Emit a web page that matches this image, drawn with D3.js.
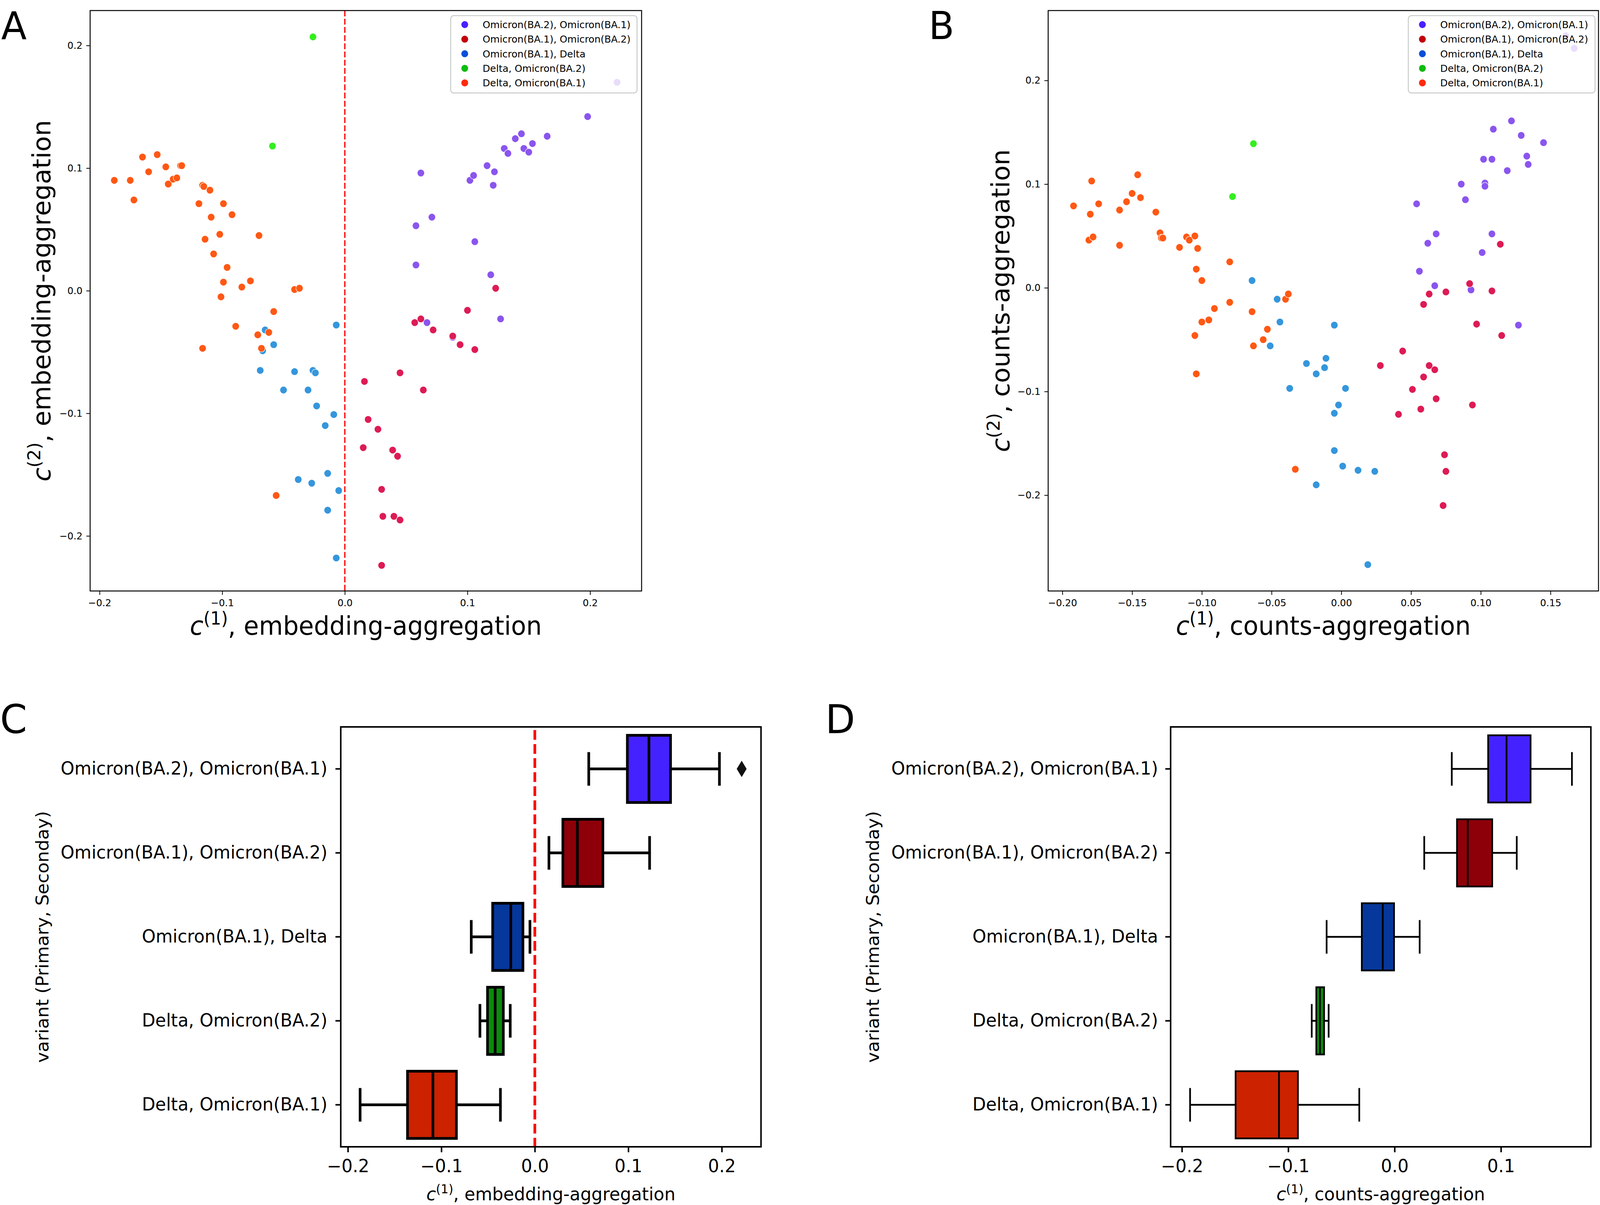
<!DOCTYPE html>
<html lang="en">
<head>
<meta charset="utf-8">
<title>c1 / c2 aggregation</title>
<script src="https://d3js.org/d3.v7.min.js"></script>
<style>
  html, body { margin: 0; padding: 0; background: #fff; overflow: hidden; }
  svg { display: block; }
  text { font-family: "DejaVu Sans", sans-serif; }
</style>
</head>
<body>
<script>
var w = 4207, h = 3085;

var categories = ["Omicron(BA.2), Omicron(BA.1)", "Omicron(BA.1), Omicron(BA.2)",
  "Omicron(BA.1), Delta", "Delta, Omicron(BA.2)", "Delta, Omicron(BA.1)"];

// panel A: [c1, c2] embedding-aggregation
var embPurple = [[0.198,0.142],[0.165,0.126],[0.144,0.128],[0.139,0.124],[0.130,0.116],[0.133,0.112],
  [0.146,0.116],[0.150,0.113],[0.153,0.120],[0.062,0.096],[0.102,0.090],[0.105,0.094],[0.116,0.102],
  [0.122,0.097],[0.121,0.086],[0.058,0.053],[0.071,0.060],[0.106,0.040],[0.058,0.021],[0.119,0.013],
  [0.067,-0.026],[0.127,-0.023],[0.088,-0.038],[0.222,0.170]];
var embRed = [[0.123,0.002],[0.100,-0.016],[0.057,-0.026],[0.062,-0.023],[0.072,-0.032],[0.088,-0.037],
  [0.094,-0.044],[0.106,-0.048],[0.016,-0.074],[0.045,-0.067],[0.064,-0.081],[0.019,-0.105],[0.027,-0.113],
  [0.015,-0.128],[0.039,-0.130],[0.043,-0.135],[0.030,-0.162],[0.031,-0.184],[0.040,-0.184],[0.045,-0.187],
  [0.030,-0.224]];
var embBlue = [[-0.065,-0.032],[-0.067,-0.049],[-0.058,-0.044],[-0.069,-0.065],[-0.041,-0.066],[-0.050,-0.081],
  [-0.026,-0.065],[-0.024,-0.067],[-0.030,-0.081],[-0.023,-0.094],[-0.009,-0.101],[-0.016,-0.110],
  [-0.007,-0.028],[-0.038,-0.154],[-0.027,-0.157],[-0.014,-0.149],[-0.005,-0.163],[-0.014,-0.179],
  [-0.007,-0.218]];
var embGreen = [[-0.026,0.207],[-0.059,0.118]];
var embOrange = [[-0.188,0.090],[-0.175,0.090],[-0.172,0.074],[-0.165,0.109],[-0.160,0.097],[-0.153,0.111],
  [-0.146,0.101],[-0.144,0.087],[-0.140,0.091],[-0.137,0.092],[-0.134,0.102],[-0.133,0.102],[-0.119,0.071],
  [-0.116,0.086],[-0.115,0.085],[-0.110,0.082],[-0.109,0.060],[-0.099,0.071],[-0.092,0.062],[-0.114,0.042],
  [-0.107,0.030],[-0.102,0.046],[-0.070,0.045],[-0.096,0.019],[-0.099,0.007],[-0.101,-0.005],[-0.084,0.003],
  [-0.077,0.008],[-0.041,0.001],[-0.037,0.002],[-0.058,-0.017],[-0.089,-0.029],[-0.071,-0.036],
  [-0.062,-0.034],[-0.068,-0.047],[-0.116,-0.047],[-0.056,-0.167]];

// panel B: [c1, c2] counts-aggregation
var cntPurple = [[0.122,0.161],[0.109,0.153],[0.129,0.147],[0.145,0.140],[0.133,0.127],[0.134,0.119],
  [0.102,0.124],[0.108,0.124],[0.119,0.113],[0.086,0.100],[0.103,0.101],[0.103,0.098],[0.089,0.085],
  [0.054,0.081],[0.068,0.052],[0.108,0.052],[0.062,0.043],[0.101,0.034],[0.056,0.016],[0.067,0.002],
  [0.093,-0.002],[0.127,-0.036],[0.161,0.243],[0.167,0.231]];
var cntRed = [[0.114,0.042],[0.092,0.004],[0.063,-0.006],[0.075,-0.004],[0.059,-0.016],[0.108,-0.003],
  [0.097,-0.035],[0.115,-0.046],[0.044,-0.061],[0.028,-0.075],[0.063,-0.075],[0.067,-0.079],[0.059,-0.086],
  [0.051,-0.098],[0.068,-0.107],[0.057,-0.117],[0.041,-0.122],[0.094,-0.113],[0.074,-0.161],[0.075,-0.177],
  [0.073,-0.210]];
var cntBlue = [[-0.064,0.007],[-0.046,-0.011],[-0.044,-0.033],[-0.051,-0.056],[-0.005,-0.036],[-0.011,-0.068],
  [-0.025,-0.073],[-0.012,-0.077],[-0.018,-0.083],[-0.037,-0.097],[0.003,-0.097],[-0.002,-0.113],
  [-0.005,-0.121],[-0.005,-0.157],[0.001,-0.172],[0.012,-0.176],[0.024,-0.177],[-0.018,-0.190],[0.019,-0.267]];
var cntGreen = [[-0.063,0.139],[-0.078,0.088]];
var cntOrange = [[-0.192,0.079],[-0.179,0.103],[-0.180,0.071],[-0.174,0.081],[-0.181,0.046],[-0.178,0.049],
  [-0.159,0.075],[-0.159,0.041],[-0.154,0.083],[-0.150,0.091],[-0.146,0.109],[-0.144,0.087],[-0.133,0.073],
  [-0.130,0.053],[-0.129,0.048],[-0.128,0.048],[-0.116,0.039],[-0.111,0.049],[-0.109,0.046],[-0.105,0.050],
  [-0.103,0.038],[-0.080,0.025],[-0.104,0.018],[-0.100,0.007],[-0.091,-0.020],[-0.100,-0.033],[-0.095,-0.031],
  [-0.105,-0.046],[-0.104,-0.083],[-0.080,-0.014],[-0.064,-0.023],[-0.063,-0.056],[-0.053,-0.040],
  [-0.056,-0.050],[-0.040,-0.011],[-0.038,-0.006],[-0.033,-0.175]];

// box summaries per category: [whisker low, q1, median, q3, whisker high]
var boxEmb = [[0.0577,0.0990,0.1221,0.1452,0.1975],[0.0151,0.0300,0.0455,0.0728,0.1228],
  [-0.0680,-0.0451,-0.0257,-0.0127,-0.0052],[-0.0587,-0.0506,-0.0424,-0.0337,-0.0263],
  [-0.1869,-0.1362,-0.1090,-0.0839,-0.0368]];
var outliersEmb = [[0, 0.2213]];
var boxCnt = [[0.0538,0.0880,0.1053,0.1279,0.1668],[0.0279,0.0587,0.0688,0.0918,0.1149],
  [-0.0639,-0.0308,-0.0111,-0.0005,0.0236],[-0.0779,-0.0736,-0.0702,-0.0663,-0.0620],
  [-0.1923,-0.1495,-0.1087,-0.0909,-0.0332]];
var outliersCnt = [];

var ticksA = [-0.2, -0.1, 0, 0.1, 0.2];
var ticksBx = [-0.20, -0.15, -0.10, -0.05, 0, 0.05, 0.10, 0.15];
var ticksBy = [-0.2, -0.1, 0, 0.1, 0.2];
var ticksC = [-0.2, -0.1, 0, 0.1, 0.2];
var ticksD = [-0.2, -0.1, 0, 0.1];

var pointColors = ["#8a55ee", "#dd1b55", "#3596dc", "#35ee20", "#ff5814"];
var legendColors = ["#4a1fff", "#c2000e", "#0a4ed8", "#10bb10", "#ff2a0c"];
var boxColors = ["#4422ff", "#8e0009", "#06379b", "#0b8a0b", "#cc2200"];

// scale the whole drawing to the window so nothing is cropped
var svg = d3.select("body").append("svg")
  .attr("viewBox", "0 0 " + w + " " + h)
  .attr("preserveAspectRatio", "none")
  .style("width", "100vw").style("height", "100vh");
svg.append("rect").attr("width", w).attr("height", h).attr("fill", "#fff");

function label(g, x, y, size, pre, sup, post, rot) {
  var t = g.append("text")
    .attr("transform", "translate(" + x + "," + y + ")" + (rot ? " rotate(-90)" : ""))
    .attr("text-anchor", "middle").attr("font-size", size);
  t.append("tspan").attr("font-style", "italic").text(pre);
  t.append("tspan").attr("font-size", size * 0.7).attr("dy", -size * 0.4).text(sup);
  t.append("tspan").attr("dy", size * 0.4).text(post);
}

function styleAxis(sel, fs, sw) {
  sel.attr("font-size", fs).attr("font-family", "DejaVu Sans");
  sel.select(".domain").remove();
  sel.selectAll("line").attr("stroke-width", sw);
}

function scatterPanel(o) {
  var g = svg.append("g");
  var x = d3.scaleLinear().domain(o.xdom).range([o.left, o.right]);
  var y = d3.scaleLinear().domain(o.ydom).range([o.bottom, o.top]);

  o.series.forEach(function(s, i) {
    g.append("g").selectAll("circle")
      .data(s).enter().append("circle")
      .attr("cx", d => x(d[0]))
      .attr("cy", d => y(d[1]))
      .attr("r", 9.5)
      .attr("fill", pointColors[i])
      .attr("stroke", "#fff").attr("stroke-width", 1.2);
  });

  if (o.zero) {
    g.append("line")
      .attr("x1", x(0)).attr("x2", x(0)).attr("y1", o.top).attr("y2", o.bottom)
      .attr("stroke", "#ff0000").attr("stroke-width", 3.3).attr("stroke-dasharray", "15,6");
  }

  var xAxis = d3.axisBottom(x).tickValues(o.xticks).tickFormat(d3.format(o.xfmt))
    .tickSizeOuter(0).tickSize(10).tickPadding(11);
  var yAxis = d3.axisLeft(y).tickValues(o.yticks).tickFormat(d3.format(".1f"))
    .tickSizeOuter(0).tickSize(10).tickPadding(10);
  g.append("g").attr("transform", "translate(0," + o.bottom + ")").call(xAxis).call(styleAxis, 25, 2);
  g.append("g").attr("transform", "translate(" + o.left + ",0)").call(yAxis).call(styleAxis, 25, 2);

  g.append("rect")
    .attr("x", o.left).attr("y", o.top)
    .attr("width", o.right - o.left).attr("height", o.bottom - o.top)
    .attr("fill", "none").attr("stroke", "#000").attr("stroke-width", 2.5);

  // legend (semi-transparent frame over the points, as matplotlib does)
  var lg = g.append("g");
  lg.append("rect")
    .attr("x", o.legend[0]).attr("y", 40).attr("width", o.legend[1]).attr("height", 198)
    .attr("rx", 8).attr("fill", "#fff").attr("fill-opacity", 0.8)
    .attr("stroke", "#c6cbc8").attr("stroke-width", 2.5);
  lg.selectAll("circle").data(categories).enter().append("circle")
    .attr("cx", o.legend[0] + 37).attr("cy", (d, i) => 63 + i * 37.3).attr("r", 9)
    .attr("fill", (d, i) => legendColors[i]);
  lg.selectAll("text").data(categories).enter().append("text")
    .attr("x", o.legend[0] + 84).attr("y", (d, i) => 63 + i * 37.3).attr("dy", "0.36em")
    .attr("font-size", 25.5).text(d => d);

  label(g, (o.left + o.right) / 2, 1625, 65, "c", "(1)", o.xlab, false);
  label(g, o.ylabX, (o.top + o.bottom) / 2, 65, "c", "(2)", o.xlab, true);

  g.append("text").attr("x", o.letterX).attr("y", 100).attr("font-size", 98)
    .attr("font-family", "Liberation Sans").text(o.letter);
}

function boxPanel(o) {
  var g = svg.append("g");
  var x = d3.scaleLinear().domain(o.xdom).range([o.left, o.right]);
  var y = d3.scaleBand().domain(categories).range([o.top, o.bottom]);
  var bh = y.bandwidth() * 0.8;
  var lw = o.lw;

  var rows = g.selectAll("g.row").data(o.stats).enter().append("g")
    .attr("transform", (d, i) => "translate(0," + (y(categories[i]) + y.bandwidth() / 2) + ")");
  rows.append("line").attr("x1", d => x(d[0])).attr("x2", d => x(d[1]))
    .attr("stroke", "#000").attr("stroke-width", lw);
  rows.append("line").attr("x1", d => x(d[3])).attr("x2", d => x(d[4]))
    .attr("stroke", "#000").attr("stroke-width", lw);
  [0, 4].forEach(function(k) {
    rows.append("line").attr("x1", d => x(d[k])).attr("x2", d => x(d[k]))
      .attr("y1", -bh / 4).attr("y2", bh / 4)
      .attr("stroke", "#000").attr("stroke-width", lw);
  });
  rows.append("rect")
    .attr("x", d => x(d[1])).attr("width", d => x(d[3]) - x(d[1]))
    .attr("y", -bh / 2).attr("height", bh)
    .attr("fill", (d, i) => boxColors[i])
    .attr("stroke", "#000").attr("stroke-width", lw);
  rows.append("line").attr("x1", d => x(d[2])).attr("x2", d => x(d[2]))
    .attr("y1", -bh / 2).attr("y2", bh / 2)
    .attr("stroke", "#000").attr("stroke-width", lw);

  g.selectAll("path.out").data(o.outliers).enter().append("path")
    .attr("d", "M0,-21L13,0L0,21L-13,0Z")
    .attr("transform", d => "translate(" + x(d[1]) + "," + (y(categories[d[0]]) + y.bandwidth() / 2) + ")")
    .attr("fill", "#111");

  if (o.zero) {
    g.append("line")
      .attr("x1", x(0)).attr("x2", x(0)).attr("y1", o.top + 8).attr("y2", o.bottom)
      .attr("stroke", "#ff0000").attr("stroke-width", 7).attr("stroke-dasharray", "25,11");
  }

  var xAxis = d3.axisBottom(x).tickValues(o.xticks).tickFormat(d3.format(".1f"))
    .tickSizeOuter(0).tickSize(14).tickPadding(18);
  var yAxis = d3.axisLeft(y).tickSizeOuter(0).tickSize(14).tickPadding(o.ypad);
  g.append("g").attr("transform", "translate(0," + o.bottom + ")").call(xAxis).call(styleAxis, 46, 4);
  g.append("g").attr("transform", "translate(" + o.left + ",0)").call(yAxis).call(styleAxis, 46, 4);

  g.append("rect")
    .attr("x", o.left).attr("y", o.top)
    .attr("width", o.right - o.left).attr("height", o.bottom - o.top)
    .attr("fill", "none").attr("stroke", "#000").attr("stroke-width", 4);

  label(g, (o.left + o.right) / 2, 3073, 46, "c", "(1)", o.xlab, false);
  g.append("text")
    .attr("transform", "translate(" + o.ylabX + "," + ((o.top + o.bottom) / 2) + ") rotate(-90)")
    .attr("text-anchor", "middle").attr("font-size", 46)
    .text("variant (Primary, Seconday)");

  g.append("text").attr("x", o.letterX).attr("y", 1877).attr("font-size", 102)
    .attr("font-family", "Liberation Sans").text(o.letter);
}

scatterPanel({
  letter: "A", letterX: 3, left: 237, right: 1687, top: 27, bottom: 1513,
  xdom: [-0.2077, 0.242], ydom: [-0.2449, 0.2285],
  xticks: ticksA, yticks: ticksA, xfmt: ".1f", zero: true,
  series: [embPurple, embRed, embBlue, embGreen, embOrange],
  legend: [1185, 490], ylabX: 132, xlab: ", embedding-aggregation"
});

scatterPanel({
  letter: "B", letterX: 2442, left: 2756, right: 4203, top: 27, bottom: 1513,
  xdom: [-0.2102, 0.1844], ydom: [-0.2924, 0.2674],
  xticks: ticksBx, yticks: ticksBy, xfmt: ".2f", zero: false,
  series: [cntPurple, cntRed, cntBlue, cntGreen, cntOrange],
  legend: [3703, 491], ylabX: 2654, xlab: ", counts-aggregation"
});

boxPanel({
  letter: "C", letterX: 0, left: 896, right: 2001, top: 1861, bottom: 2936,
  xdom: [-0.2076, 0.242], xticks: ticksC, stats: boxEmb, outliers: outliersEmb,
  zero: true, lw: 7, ypad: 21, ylabX: 127, xlab: ", embedding-aggregation"
});

boxPanel({
  letter: "D", letterX: 2170, left: 3078, right: 4183, top: 1861, bottom: 2936,
  xdom: [-0.2106, 0.1846], xticks: ticksD, stats: boxCnt, outliers: outliersCnt,
  zero: false, lw: 4.5, ypad: 19, ylabX: 2311, xlab: ", counts-aggregation"
});
</script>
</body>
</html>
